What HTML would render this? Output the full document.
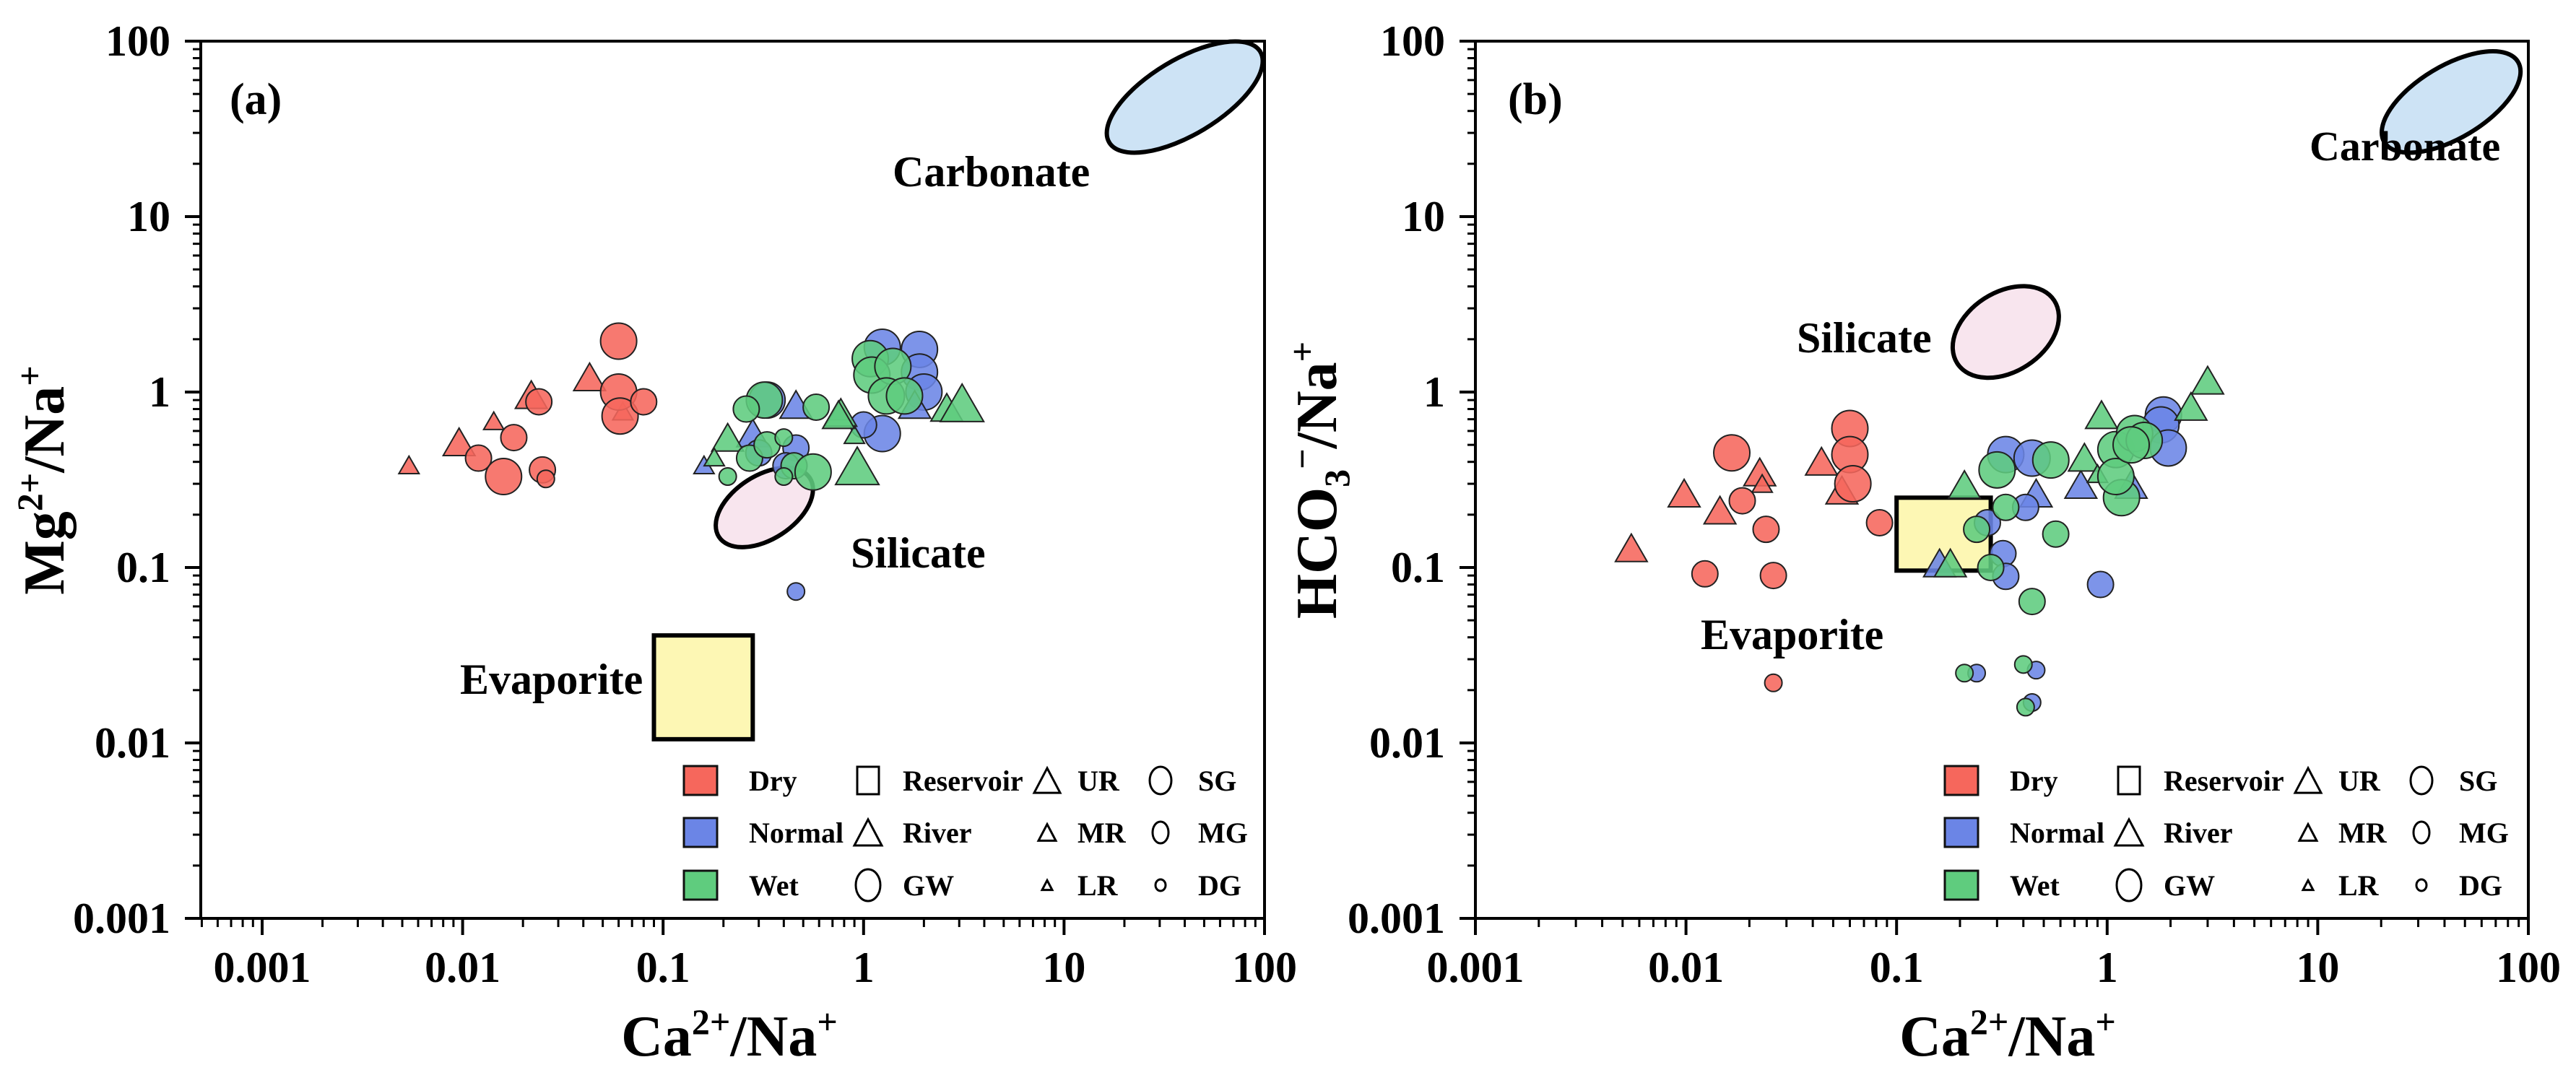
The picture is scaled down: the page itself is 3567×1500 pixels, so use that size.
<!DOCTYPE html>
<html><head><meta charset="utf-8"><style>
html,body{margin:0;padding:0;background:#fff;}
svg{display:block;font-family:"Liberation Serif",serif;font-weight:bold;}
</style></head><body>
<svg id="fig" width="3567" height="1500" viewBox="0 0 3567 1500" xmlns="http://www.w3.org/2000/svg">
<g id="panelA"></g>
<g id="panelB"></g>
</svg>
<script>
// ---- Data (panel a: Mg/Na vs Ca/Na) ----
const aDryX = [0.0054,0.0096,0.0143,0.022,0.043,0.063,0.012,0.016,0.018,0.024,0.025,0.026,0.06,0.06,0.061,0.08];
const aDryY = [0.37,0.49,0.66,0.91,1.15,0.75,0.42,0.33,0.55,0.88,0.36,0.32,1.95,1.0,0.73,0.88];
const aDryT = ['LR','MR','LR','MR','MR','LR','MG','SG','MG','MG','MG','DG','SG','SG','SG','MG'];
const aNorX = [0.33,0.46,0.16,0.28,0.46,0.41,0.46,1.24,1.9,1.9,2.0,1.24,1.0,0.75,1.8,0.3];
const aNorY = [0.9,0.8,0.37,0.55,0.48,0.38,0.073,1.8,1.75,1.3,1.0,0.58,0.65,0.75,0.8,0.45];
const aNorT = ['SG','MR','LR','MR','MG','MG','DG','SG','SG','SG','SG','SG','MG','LR','MR','MG'];
const aWetX = [0.32,0.26,0.58,0.21,0.18,0.21,0.27,0.33,0.4,0.45,0.4,0.56,0.77,0.93,0.9,1.08,1.1,1.4,1.3,1.6,2.6,3.1,0.75];
const aWetY = [0.9,0.8,0.82,0.52,0.41,0.33,0.42,0.5,0.55,0.38,0.33,0.35,0.72,0.35,0.55,1.55,1.25,1.4,0.95,0.95,0.77,0.8,0.7];
const aWetT = ['SG','MG','MG','MR','LR','DG','MG','MG','DG','MG','DG','SG','MR','UR','LR','SG','SG','SG','SG','SG','MR','UR','MR'];
// ---- Data (panel b: HCO3/Na vs Ca/Na) ----
const bDryX = [0.0055,0.0098,0.0145,0.0224,0.023,0.044,0.055,0.0165,0.0185,0.024,0.0123,0.026,0.026,0.06,0.06,0.062,0.083];
const bDryY = [0.122,0.25,0.2,0.33,0.29,0.38,0.26,0.45,0.24,0.165,0.092,0.09,0.022,0.62,0.44,0.3,0.18];
const bDryT = ['MR','MR','MR','MR','LR','MR','MR','SG','MG','MG','MG','MG','DG','SG','SG','SG','MG'];
const bNorX = [0.16,0.46,0.75,1.3,0.33,0.44,0.27,0.32,0.33,0.41,0.93,0.24,0.46,0.44,1.85,1.8,1.95];
const bNorY = [0.1,0.25,0.28,0.28,0.44,0.42,0.18,0.12,0.089,0.22,0.08,0.025,0.026,0.017,0.74,0.65,0.48];
const bNorT = ['MR','MR','MR','MR','SG','SG','MG','MG','MG','MG','MG','DG','DG','DG','SG','SG','SG'];
const bWetX = [0.21,0.18,0.94,0.78,2.5,3.0,0.9,0.3,0.24,0.33,0.28,0.54,0.57,0.44,0.21,0.4,0.41,1.1,1.35,1.5,1.17,1.1,1.3];
const bWetY = [0.28,0.1,0.7,0.4,0.78,1.1,0.33,0.36,0.165,0.22,0.1,0.41,0.155,0.064,0.025,0.028,0.016,0.47,0.58,0.53,0.25,0.33,0.5];
const bWetT = ['MR','MR','MR','MR','MR','MR','LR','SG','MG','MG','MG','SG','MG','MG','DG','DG','DG','SG','SG','SG','SG','SG','SG'];
const yTickLabels = ['0.001','0.01','0.1','1','10','100'];
const aXTickLabels = ['0.001','0.01','0.1','1','10','100'];
const bXTickLabels = ['0.001','0.01','0.1','1','10','100'];

const NS='http://www.w3.org/2000/svg';
const COL={Dry:'#f6675c',Normal:'#6b85e6',Wet:'#5fcc7e'};
function mk(parent,tag,attrs){const e=document.createElementNS(NS,tag);for(const k in attrs)e.setAttribute(k,attrs[k]);parent.appendChild(e);return e;}

function panel(g,cfg){
  const xs=v=>cfg.x0+(Math.log10(v)+3)*cfg.dec;
  const ys=v=>1272-(Math.log10(v)+3)*243;
  const car=mk(g,'ellipse',{cx:xs(cfg.car[0]),cy:ys(cfg.car[1]),rx:cfg.car[2],ry:cfg.car[3],transform:`rotate(-31 ${xs(cfg.car[0])} ${ys(cfg.car[1])})`,fill:'#cde3f5',stroke:'#000','stroke-width':6});
  
  
  const sil=mk(g,'ellipse',{cx:xs(cfg.sil[0]),cy:ys(cfg.sil[1]),rx:cfg.sil[2],ry:cfg.sil[3],transform:`rotate(-33 ${xs(cfg.sil[0])} ${ys(cfg.sil[1])})`,fill:'#f8e5ee',stroke:'#000','stroke-width':6});
  
  
  const ev=mk(g,'rect',{x:xs(cfg.eva[0]),y:ys(cfg.eva[3]),width:xs(cfg.eva[1])-xs(cfg.eva[0]),height:ys(cfg.eva[2])-ys(cfg.eva[3]),fill:'#fdf7b4',stroke:'#000','stroke-width':6});
  
  
  const sets=[['Dry',cfg.dry],['Normal',cfg.nor],['Wet',cfg.wet]];
  for(const [nm,[X,Y,T]] of sets){
    for(let i=0;i<X.length;i++){
      const cx=xs(X[i]),cy=ys(Y[i]),t=T[i];let e;
      if(t==='SG'||t==='MG'||t==='DG'){
        const r={SG:25,MG:18,DG:12}[t];
        e=mk(g,'circle',{cx:cx,cy:cy,r:r});
      } else {
        const s={UR:60,MR:44,LR:28}[t];const h=s*0.866;
        e=mk(g,'polygon',{points:`${cx},${cy-h*2/3} ${cx-s/2},${cy+h/3} ${cx+s/2},${cy+h/3}`});
      }
      e.setAttribute('fill',COL[nm]);e.setAttribute('fill-opacity','0.88');e.setAttribute('stroke','#222');e.setAttribute('stroke-width','2');
      
      
    }
  }
  const fr=mk(g,'rect',{x:cfg.left,y:57,width:cfg.right-cfg.left,height:1215,fill:'none',stroke:'#000','stroke-width':4});
  
  
  for(let d=-3;d<=2;d++){
    const y=ys(Math.pow(10,d));
    mk(g,'line',{x1:cfg.left-22,x2:cfg.left,y1:y,y2:y,stroke:'#000','stroke-width':4});
    const tl=mk(g,'text',{x:cfg.left-42,y:y+20,'text-anchor':'end','font-size':60});tl.textContent=yTickLabels[d+3];
    
    
    if(d<2)for(let m=2;m<=9;m++){const yy=ys(m*Math.pow(10,d));mk(g,'line',{x1:cfg.left-11,x2:cfg.left,y1:yy,y2:yy,stroke:'#000','stroke-width':3});}
  }
  for(let d=-4;d<=2;d++){
    const v=Math.pow(10,d);const x=xs(v);
    if(d>=-3){mk(g,'line',{x1:x,x2:x,y1:1272,y2:1295,stroke:'#000','stroke-width':4});
      const tl=mk(g,'text',{x:x,y:1360,'text-anchor':'middle','font-size':60});tl.textContent=cfg.xl[d+3];
      
      }
    if(d<2)for(let m=2;m<=9;m++){const xx=xs(m*v);if(xx>=cfg.left-1&&xx<=cfg.right)mk(g,'line',{x1:xx,x2:xx,y1:1272,y2:1284,stroke:'#000','stroke-width':3});}
  }
  const lab=(txt,x,y,fs,name,anchor)=>{const t=mk(g,'text',{x:x,y:y,'font-size':fs,'text-anchor':anchor||'start'});t.textContent=txt;return t;};
  lab(cfg.tag,cfg.tagx,158,62,'panel-label');
  lab('Carbonate',cfg.carT[0],cfg.carT[1],cfg.carFs,'carbonate-label');
  lab('Silicate',cfg.silT[0],cfg.silT[1],60,'silicate-label');
  lab('Evaporite',cfg.evaT[0],cfg.evaT[1],60,'evaporite-label');
  const xt=mk(g,'text',{x:cfg.xtx,y:1462,'font-size':80,'text-anchor':'middle'});
  xt.innerHTML='Ca<tspan dy="-30" font-size="50">2+</tspan><tspan dy="30">/Na</tspan><tspan dy="-30" font-size="50">+</tspan>';
  
  
  const yt=mk(g,'text',{x:0,y:0,'font-size':80,'text-anchor':'middle',transform:`translate(${cfg.ytx},665) rotate(-90)`});
  yt.innerHTML=cfg.ytitle;
  
  
  const L=cfg.leg, rows=[1081,1153,1226];
  const names=['Dry','Normal','Wet'];
  for(let i=0;i<3;i++){
    const r=mk(g,'rect',{x:L,y:rows[i]-20,width:46,height:40,fill:COL[names[i]],stroke:'#111','stroke-width':3});
    
    
    lab(names[i],L+90,rows[i]+14,40,'legend-entry');
  }
  const ol={fill:'none',stroke:'#000','stroke-width':3};
  const tri=(cx,cy,s)=>{const h=s*0.95;const p=mk(g,'polygon',Object.assign({points:`${cx},${cy-h/2} ${cx-s/2},${cy+h/2} ${cx+s/2},${cy+h/2}`},ol));};
  const cir=(cx,cy,rx,ry)=>{const p=mk(g,'ellipse',Object.assign({cx:cx,cy:cy,rx:rx,ry:ry},ol));};
  const sq=mk(g,'rect',Object.assign({x:L+240,y:rows[0]-19,width:30,height:38},ol));
  lab('Reservoir',L+303,rows[0]+14,40,'legend-entry');
  tri(L+255,rows[1],38); lab('River',L+303,rows[1]+14,40,'legend-entry');
  cir(L+255,rows[2],17,22); lab('GW',L+303,rows[2]+14,40,'legend-entry');
  tri(L+503,rows[0],36); lab('UR',L+545,rows[0]+14,40,'legend-entry');
  tri(L+503,rows[1],24); lab('MR',L+545,rows[1]+14,40,'legend-entry');
  tri(L+503,rows[2],14); lab('LR',L+545,rows[2]+14,40,'legend-entry');
  cir(L+660,rows[0],15,19); lab('SG',L+712,rows[0]+14,40,'legend-entry');
  cir(L+660,rows[1],11,15); lab('MG',L+712,rows[1]+14,40,'legend-entry');
  cir(L+660,rows[2],7,8); lab('DG',L+712,rows[2]+14,40,'legend-entry');
}

panel(document.getElementById('panelA'),{
  x0:363,dec:277.6,left:278,right:1751,xl:aXTickLabels,
  dry:[aDryX,aDryY,aDryT],nor:[aNorX,aNorY,aNorT],wet:[aWetX,aWetY,aWetT],
  car:[40,48,122,52],sil:[0.32,0.22,75,44],eva:[0.09,0.28,0.0105,0.041],
  carT:[1236,258],carFs:60,silT:[1178,786],evaT:[637,961],tag:'(a)',tagx:318,
  xtx:1010,ytx:88,leg:947,
  ytitle:'Mg<tspan dy="-30" font-size="50">2+</tspan><tspan dy="30">/Na</tspan><tspan dy="-30" font-size="50">+</tspan>'
});
panel(document.getElementById('panelB'),{
  x0:2043,dec:291.6,left:2043,right:3501,xl:bXTickLabels,
  dry:[bDryX,bDryY,bDryT],nor:[bNorX,bNorY,bNorT],wet:[bWetX,bWetY,bWetT],
  car:[43,45,108,50],sil:[0.33,2.2,80,55],eva:[0.1,0.28,0.096,0.25],
  carT:[3198,222],carFs:58,silT:[2488,488],evaT:[2355,899],tag:'(b)',tagx:2088,
  xtx:2780,ytx:1850,leg:2693,
  ytitle:'HCO<tspan dy="18" font-size="50">3</tspan><tspan dy="-48" font-size="50">−</tspan><tspan dy="30">/Na</tspan><tspan dy="-30" font-size="50">+</tspan>'
});
</script>
</body></html>
